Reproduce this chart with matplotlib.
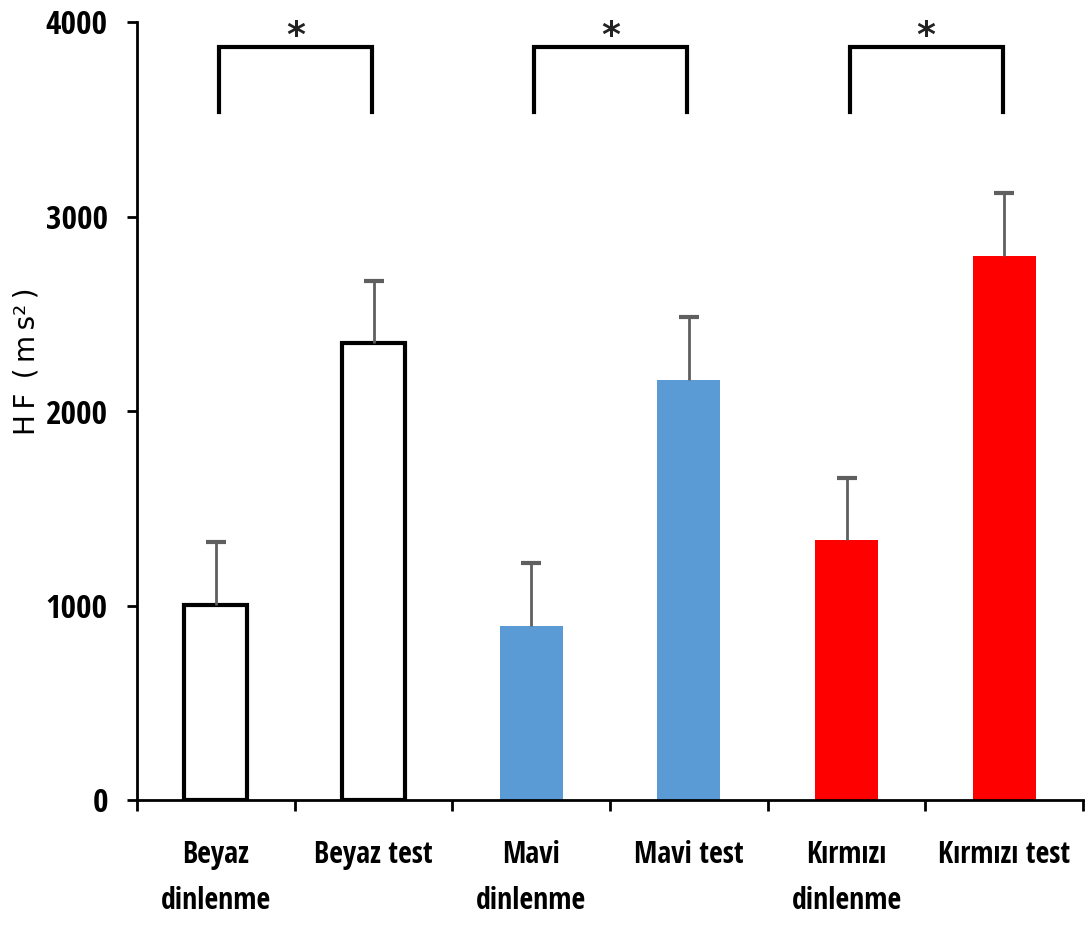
import matplotlib
matplotlib.use("Agg")
import matplotlib.pyplot as plt
from matplotlib import font_manager
from matplotlib.font_manager import FontProperties

categories = ["Beyaz\ndinlenme", "Beyaz test", "Mavi\ndinlenme", "Mavi test", "Kırmızı\ndinlenme", "Kırmızı test"]
values = [1005, 2350, 895, 2160, 1337, 2797]
errors = [322, 318, 323, 323, 319, 324]
face_colors = ["white", "white", "#5B9BD5", "#5B9BD5", "#FF0000", "#FF0000"]
edge_colors = ["black", "black", "#5B9BD5", "#5B9BD5", "#FF0000", "#FF0000"]
y_ticks = [0, 1000, 2000, 3000, 4000]
brackets = [(0.02, 0.99), (2.02, 2.99), (4.02, 4.99)]
bracket_top = 3870
bracket_bottom = 3535


def _is_bold(w):
    try:
        return int(w) >= 600
    except Exception:
        return str(w).lower() in ("bold", "semibold", "demibold", "heavy", "extra bold", "black")


def _is_cond(f):
    s = str(f.stretch).lower()
    if "condensed" in s or "narrow" in s:
        return True
    try:
        return int(f.stretch) < 500
    except Exception:
        pass
    return "narrow" in f.name.lower() or "condensed" in f.name.lower()


cond_path = None
for pref in ["Liberation Sans Narrow", "Open Sans", "Noto Sans", "Roboto", "Lato", "Inter", "DejaVu Sans"]:
    for f in font_manager.fontManager.ttflist:
        if (f.name == pref or pref in f.name) and _is_cond(f) and _is_bold(f.weight) and f.style == "normal":
            cond_path = f.fname
            break
    if cond_path:
        break

if cond_path:
    fp_tick = FontProperties(fname=cond_path, size=24)
    fp_x = FontProperties(fname=cond_path, size=21.5)
else:
    fp_tick = FontProperties(family="Liberation Sans", weight="bold", size=19)
    fp_x = FontProperties(family="Liberation Sans", weight="bold", size=17)

fig = plt.figure(figsize=(10.89, 9.31), dpi=100)
ax = fig.add_axes([137/1089, 131/931, (1083-137)/1089, (800-22)/931])

x = list(range(len(categories)))
for i in x:
    lw = 3 if face_colors[i] == "white" else 0
    ax.bar(i, values[i], width=0.4, color=face_colors[i], edgecolor=edge_colors[i], linewidth=lw, zorder=2)
tops = [v + e for v, e in zip(values, errors)]
ax.vlines(x, values, tops, color="#5F5F5F", lw=2, zorder=3)
ax.plot(x, tops, linestyle="none", marker="_", markersize=15, markeredgewidth=3, color="#5F5F5F", zorder=3)

for (a, b) in brackets:
    ax.plot([a, a, b, b], [bracket_bottom, bracket_top, bracket_top, bracket_bottom],
            color="black", lw=3, solid_joinstyle="miter", clip_on=False, zorder=4)
    ax.text((a + b) / 2, 3930, "*", ha="center", va="center", fontsize=26,
            fontweight="bold", family="DejaVu Sans", color="#222222")

ax.set_xlim(-0.5, 5.5)
ax.set_ylim(0, 4000)
ax.set_yticks(y_ticks)
ax.set_yticklabels([str(t) for t in y_ticks], fontproperties=fp_tick)
ax.set_xticks([i + 0.5 for i in range(-1, 6)])
ax.set_xticklabels([])
ax.set_xticks(x, minor=True)
ax.set_xticklabels(categories, minor=True, fontproperties=fp_x, linespacing=1.7)
ax.tick_params(axis="x", which="minor", length=0, pad=29)
ax.tick_params(axis="x", which="major", length=8, width=2, direction="out")
ax.tick_params(axis="y", length=7, width=2, direction="out", pad=14)
for s in ["top", "right"]:
    ax.spines[s].set_visible(False)
for s in ["left", "bottom"]:
    ax.spines[s].set_linewidth(2)
fig.text(27/1089, 1 - 361/931, "H\u2009F\u2009 (\u2009m\u2009s\u00b2\u2009)", rotation=90,
         ha="center", va="center", fontsize=20, family="DejaVu Sans")
fig.savefig("out.png", dpi=100)
